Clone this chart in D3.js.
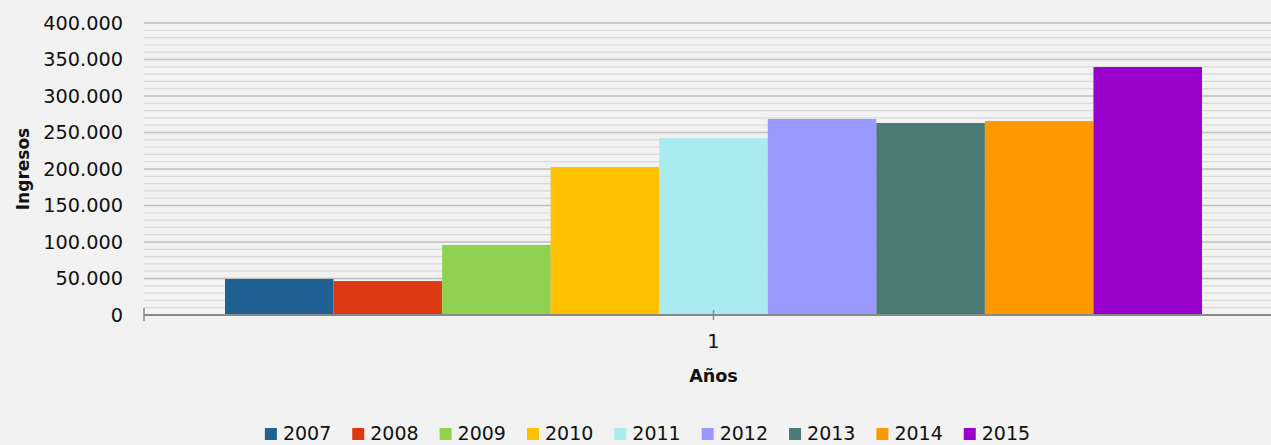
<!DOCTYPE html>
<html>
<head>
<meta charset="utf-8">
<script src="https://cdn.jsdelivr.net/npm/d3@7"></script>
<style>
  body { margin: 0; background: #f2f2f2; }
  svg { display: block; font-family: "Century Gothic", "URW Gothic", "DejaVu Sans", sans-serif; }
</style>
</head>
<body>
<div id="chart"></div>
<script>
var categories = ["1"];
var years = ["2007", "2008", "2009", "2010", "2011", "2012", "2013", "2014", "2015"];
var values = [49300, 46500, 95900, 202700, 242500, 268500, 263000, 265700, 339700];
var colors = ["#1f6192", "#dd3a13", "#92d050", "#ffc000", "#a9ebef", "#9999ff", "#4a7b77", "#ff9900", "#9900cc"];
var yTicks = [0, 50000, 100000, 150000, 200000, 250000, 300000, 350000, 400000];

var W = 1271, H = 445;
var plotLeft = 144, plotRight = 1283, plotTop = 23, plotBottom = 315;
var fontFam = "'Century Gothic', 'URW Gothic', 'DejaVu Sans', sans-serif";

var svg = d3.select("#chart").append("svg")
  .attr("width", W)
  .attr("height", H);

svg.append("rect").attr("width", W).attr("height", H).attr("fill", "#f2f2f2");

var y = d3.scaleLinear().domain([0, 400000]).range([plotBottom, plotTop]);
var x0 = d3.scaleBand().domain(categories).range([plotLeft, plotRight]).paddingInner(0).paddingOuter(0.0829);
var x1 = d3.scaleBand().domain(years).range([0, x0.bandwidth()]);

var fmt = function(d) { return d3.format(",")(d).replace(/,/g, "."); };

// minor grid
svg.append("g")
  .selectAll("line")
  .data(d3.range(0, 400001, 10000).filter(function(d) { return d % 50000 !== 0; }))
  .enter().append("line")
  .attr("x1", plotLeft).attr("x2", W)
  .attr("y1", function(d) { return y(d); })
  .attr("y2", function(d) { return y(d); })
  .attr("stroke", "#d9d9d9")
  .attr("stroke-width", 1.3);

// major grid
svg.append("g")
  .selectAll("line")
  .data(yTicks.filter(function(d) { return d > 0; }))
  .enter().append("line")
  .attr("x1", plotLeft).attr("x2", W)
  .attr("y1", function(d) { return y(d); })
  .attr("y2", function(d) { return y(d); })
  .attr("stroke", "#bfbfbf")
  .attr("stroke-width", 1.3);

// bars
var g = svg.append("g").attr("transform", "translate(" + x0("1") + ",0)");
g.selectAll("rect")
  .data(values)
  .enter().append("rect")
  .attr("x", function(d, i) { return x1(years[i]); })
  .attr("width", x1.bandwidth())
  .attr("y", function(d) { return y(d); })
  .attr("height", function(d) { return y(0) - y(d); })
  .attr("fill", function(d, i) { return colors[i]; });

// y labels
var yAxis = d3.axisLeft(y).tickValues(yTicks).tickFormat(fmt).tickSize(0).tickPadding(21);
var ya = svg.append("g").attr("transform", "translate(" + plotLeft + ",0)").call(yAxis)
  .attr("font-family", fontFam).attr("font-size", 19.3);
ya.select(".domain").remove();
ya.selectAll("text").attr("fill", "#111");

// x axis
svg.append("line")
  .attr("x1", plotLeft).attr("x2", W)
  .attr("y1", plotBottom).attr("y2", plotBottom)
  .attr("stroke", "#898989").attr("stroke-width", 2);
svg.append("line")
  .attr("x1", plotLeft).attr("x2", plotLeft)
  .attr("y1", 308).attr("y2", 321)
  .attr("stroke", "#898989").attr("stroke-width", 1.5);

var cx = x0("1") + x0.bandwidth() / 2;
svg.append("line")
  .attr("x1", cx).attr("x2", cx)
  .attr("y1", 310).attr("y2", 320)
  .attr("stroke", "#898989").attr("stroke-width", 1.5);

svg.append("text")
  .attr("x", cx).attr("y", 348)
  .attr("text-anchor", "middle")
  .attr("font-size", 19.3).attr("fill", "#111")
  .text(categories[0]);

svg.append("text")
  .attr("x", cx).attr("y", 382)
  .attr("text-anchor", "middle")
  .attr("font-size", 17.6).attr("font-weight", "bold").attr("fill", "#111")
  .text("Años");

svg.append("text")
  .attr("transform", "translate(28.5," + ((plotTop + plotBottom) / 2) + ") rotate(-90)")
  .attr("text-anchor", "middle")
  .attr("font-size", 17).attr("font-weight", "bold").attr("fill", "#111")
  .text("Ingresos");

// legend
var leg = svg.append("g");
var items = leg.selectAll("g").data(years).enter().append("g");
items.append("rect")
  .attr("width", 12).attr("height", 12)
  .attr("y", -12)
  .attr("fill", function(d, i) { return colors[i]; });
items.append("text")
  .attr("x", 18).attr("y", 0)
  .attr("font-size", 19).attr("fill", "#111")
  .text(function(d) { return d; });

var pos = 0;
items.each(function() {
  var w = this.getBBox().width;
  d3.select(this).attr("transform", "translate(" + pos + ",0)");
  pos += w + 21;
});
var total = pos - 21;
leg.attr("transform", "translate(" + (647.5 - total / 2) + ",440)");
</script>
</body>
</html>
